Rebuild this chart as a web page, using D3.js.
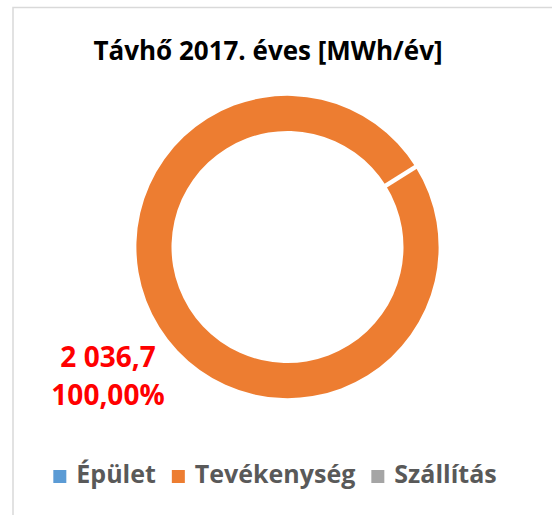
<!DOCTYPE html>
<html>
<head>
<meta charset="utf-8">
<script src="https://cdn.jsdelivr.net/npm/d3@7"></script>
<style>
  body { margin: 0; background: #fff; }
  text { font-family: "Open Sans", sans-serif; font-weight: bold; }
</style>
</head>
<body>
<svg id="chart" width="552" height="515"></svg>
<script>
// chart data
var categories = ["Épület", "Tevékenység", "Szállítás"];
var values = [0, 2036.7, 0];
var colors = ["#5b9bd5", "#ed7d31", "#a5a5a5"];
var labelValue = ["2 036,7", "100,00%"];
var title = "Távhő 2017. éves [MWh/év]";

var svg = d3.select("#chart");
var width = 552, height = 515;

// chart frame
svg.append("rect")
	.attr("x", 13).attr("y", 7.5)
	.attr("width", 560).attr("height", 530)
	.style("fill", "none")
	.style("stroke", "#d9d9d9")
	.style("stroke-width", 1.5);

svg.append("text")
	.attr("x", 268)
	.attr("y", 60)
	.attr("text-anchor", "middle")
	.style("font-size", "26px")
	.style("fill", "#000")
	.text(title);

var cx = 287.5, cy = 247, outerR = 151, innerR = 116;
var offset = 58 * Math.PI / 180;

var pie = d3.pie().sort(null)
	.startAngle(offset)
	.endAngle(offset + 2 * Math.PI);
var arc = d3.arc().innerRadius(innerR).outerRadius(outerR);

var g = svg.append("g").attr("transform", "translate(" + cx + "," + cy + ")");
var slices = pie(values);
g.selectAll("path")
	.data(slices.filter(function(d) { return d.value > 0; }))
	.enter().append("path")
	.attr("d", arc)
	.style("fill", function(d) { return colors[d.index]; });

// slice borders (white separators at each slice start)
g.selectAll("line")
	.data(slices.filter(function(d) { return d.value > 0; }))
	.enter().append("line")
	.attr("x1", function(d) { return (innerR - 2) * Math.sin(d.startAngle); })
	.attr("y1", function(d) { return -(innerR - 2) * Math.cos(d.startAngle); })
	.attr("x2", function(d) { return (outerR + 2) * Math.sin(d.startAngle); })
	.attr("y2", function(d) { return -(outerR + 2) * Math.cos(d.startAngle); })
	.style("stroke", "#fff")
	.style("stroke-width", 4.5);

// data label
svg.selectAll(".lbl")
	.data(labelValue)
	.enter().append("text")
	.attr("class", "lbl")
	.attr("x", 108)
	.attr("y", function(d, i) { return 367 + i * 38; })
	.attr("text-anchor", "middle")
	.style("font-size", "28px")
	.style("fill", "#ff0000")
	.text(function(d) { return d; });

// legend
var legend = svg.append("g");
var items = legend.selectAll("g")
	.data(categories)
	.enter().append("g");
items.append("rect")
	.attr("width", 13).attr("height", 13)
	.attr("y", -13)
	.style("fill", function(d, i) { return colors[i]; });
items.append("text")
	.attr("x", 23)
	.style("font-size", "25px")
	.style("fill", "#595959")
	.text(function(d) { return d; });

var xpos = 0, gap = 16, pos = [];
items.each(function() {
	var w = 23 + d3.select(this).select("text").node().getComputedTextLength();
	pos.push(xpos);
	xpos += w + gap;
});
var total = xpos - gap;
var start = 275 - total / 2;
items.attr("transform", function(d, i) { return "translate(" + (start + pos[i]) + ",483)"; });
</script>
</body>
</html>
